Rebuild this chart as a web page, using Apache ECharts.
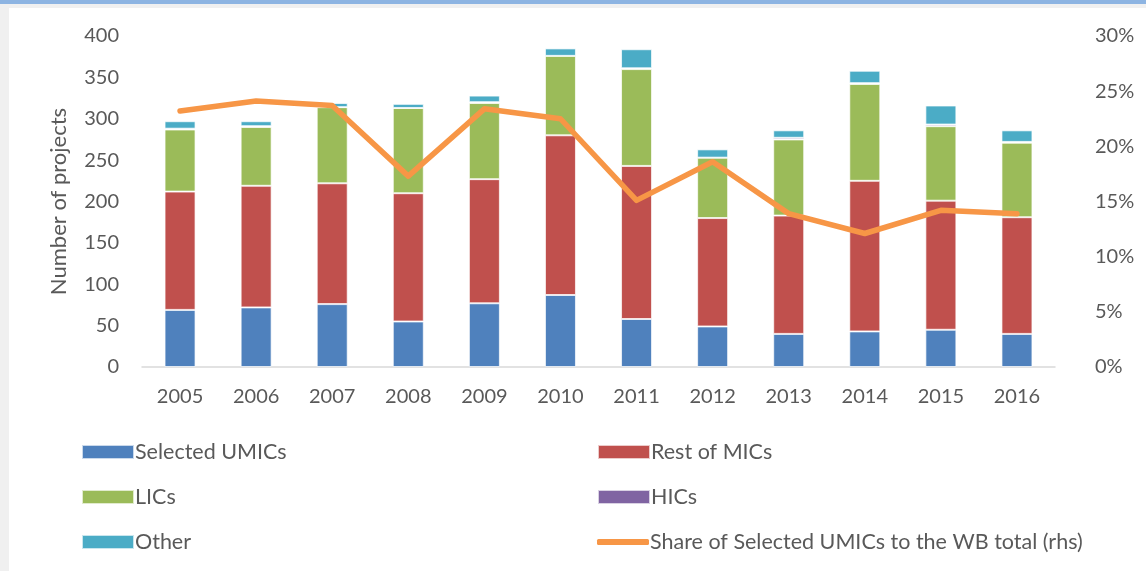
<!DOCTYPE html>
<html>
<head>
<meta charset="utf-8">
<script src="https://cdn.jsdelivr.net/npm/echarts@6/dist/echarts.min.js"></script>
<style>
html,body{margin:0;padding:0;background:#fff;}
#chart{width:1146px;height:571px;}
</style>
</head>
<body>
<div id="chart"></div>
<script>
const years = ['2005','2006','2007','2008','2009','2010','2011','2012','2013','2014','2015','2016'];
const selectedUMICs = [69, 72, 76, 55, 77, 87, 58, 49, 40, 43, 45, 40];
const restOfMICs   = [143, 147, 146, 155, 150, 193, 185, 131, 143, 182, 156, 141];
const lics         = [75, 71, 92, 103, 92, 96, 117, 73, 92, 117, 90, 90];
const hics         = [1, 1, 0, 0, 1, 0, 1, 0, 2, 1, 2, 1];
const other        = [9, 6, 5, 5, 8, 9, 23, 10, 9, 15, 23, 14];
const shareUMICs   = [23.2, 24.1, 23.7, 17.3, 23.4, 22.5, 15.1, 18.6, 13.9, 12.1, 14.2, 13.9];
const leftTicks = {min: 0, max: 400, interval: 50};
const rightTicks = {min: 0, max: 30, interval: 5};

const FONT = 'Lato';
const TXT = '#595959';
const chart = echarts.init(document.getElementById('chart'));
const barStyle = (c) => ({color: c, borderColor: 'rgba(255,255,255,0.7)', borderWidth: 1});
const mkBar = (name, data, color) => ({
  name, type: 'bar', stack: 'total', data, barWidth: 31,
  itemStyle: barStyle(color), emphasis: {disabled: true}
});
const legendText = {color: TXT, fontSize: 21.5, fontFamily: FONT, padding: [0,0,0,-4]};
chart.setOption({
  animation: false,
  backgroundColor: '#ffffff',
  textStyle: {fontFamily: FONT},
  graphic: [
    {type: 'rect', shape: {x: 0, y: 0, width: 1146, height: 4}, style: {fill: '#8db4e2'}, z: -10},
    {type: 'rect', shape: {x: 0, y: 4, width: 1146, height: 4}, style: {fill: '#f0f0f0'}, z: -10},
    {type: 'rect', shape: {x: 0, y: 4, width: 9, height: 567}, style: {fill: '#f0f0f0'}, z: -10}
  ],
  grid: {left: 142, right: 91, top: 36, bottom: 204},
  xAxis: {
    type: 'category', data: years,
    axisLine: {lineStyle: {color: '#d9d9d9', width: 1.5}},
    axisTick: {show: false},
    axisLabel: {color: TXT, fontSize: 20, fontFamily: FONT, margin: 20}
  },
  yAxis: [
    {type: 'value', min: leftTicks.min, max: leftTicks.max, interval: leftTicks.interval,
     name: 'Number of projects', nameLocation: 'middle', nameGap: 72, nameRotate: 90,
     nameTextStyle: {color: TXT, fontSize: 22, fontFamily: FONT},
     axisLine: {show: false}, axisTick: {show: false}, splitLine: {show: false},
     axisLabel: {color: TXT, fontSize: 20, fontFamily: FONT, margin: 23}},
    {type: 'value', min: rightTicks.min, max: rightTicks.max, interval: rightTicks.interval,
     axisLine: {show: false}, axisTick: {show: false}, splitLine: {show: false},
     axisLabel: {color: TXT, fontSize: 20, fontFamily: FONT, margin: 40, formatter: '{value}%'}}
  ],
  legend: [
    {orient: 'vertical', left: 81, top: 441, padding: 0, itemWidth: 52, itemHeight: 14, itemGap: 23,
     icon: 'rect', textStyle: legendText,
     data: ['Selected UMICs', 'LICs', 'Other']},
    {orient: 'vertical', left: 597, top: 441, padding: 0, itemWidth: 52, itemHeight: 14, itemGap: 23,
     icon: 'rect', textStyle: legendText,
     data: ['Rest of MICs', 'HICs']},
    {orient: 'vertical', left: 597, top: 531, padding: 0, itemWidth: 52, itemHeight: 6,
     icon: 'roundRect', textStyle: legendText,
     data: ['Share of Selected UMICs to the WB total (rhs)']}
  ],
  series: [
    mkBar('Selected UMICs', selectedUMICs, '#4f81bd'),
    mkBar('Rest of MICs', restOfMICs, '#c0504d'),
    mkBar('LICs', lics, '#9bbb59'),
    mkBar('HICs', hics, '#8064a2'),
    mkBar('Other', other, '#4bacc6'),
    {name: 'Share of Selected UMICs to the WB total (rhs)', type: 'line', yAxisIndex: 1,
     data: shareUMICs, symbol: 'none', z: 5,
     lineStyle: {color: '#f79646', width: 5.5, cap: 'round', join: 'round'},
     itemStyle: {color: '#f79646'}, emphasis: {disabled: true}}
  ]
});
</script>
</body>
</html>
